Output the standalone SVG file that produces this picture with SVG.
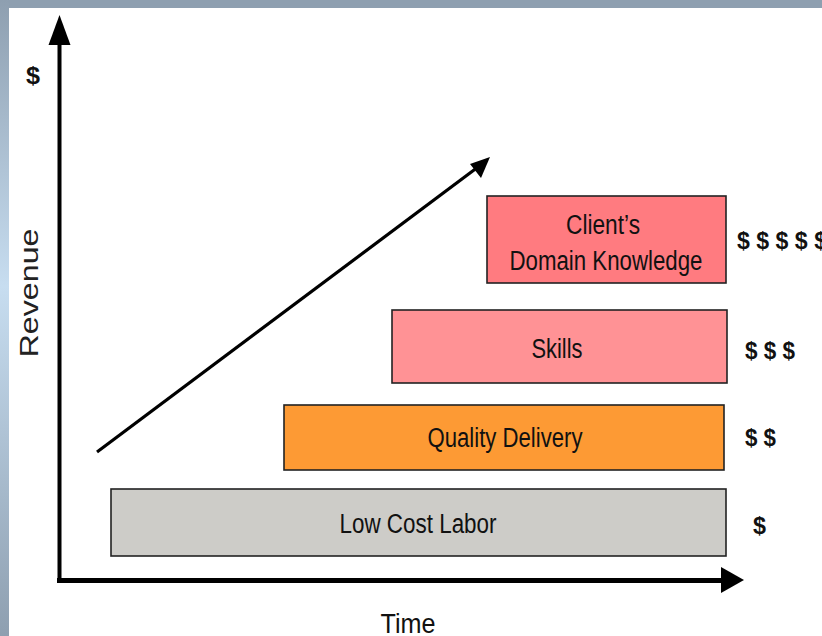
<svg xmlns="http://www.w3.org/2000/svg" width="822" height="636" viewBox="0 0 822 636">
<defs>
<linearGradient id="side" x1="0" y1="0" x2="0" y2="1">
<stop offset="0" stop-color="#8e9fb0"/>
<stop offset="0.45" stop-color="#c7ddf0"/>
<stop offset="1" stop-color="#8e9fb0"/>
</linearGradient>
<style>
.box{stroke:#222;stroke-width:1.6}
.lbl{font-family:"Liberation Sans",Arial,sans-serif;font-size:27px;fill:#111;text-anchor:middle}
.dol{font-family:"Liberation Sans",Arial,sans-serif;font-size:24px;font-weight:bold;fill:#111}
.ax{stroke:#000;fill:none}
</style>
</defs>
<rect x="0" y="0" width="822" height="636" fill="#fff"/>
<rect x="0" y="0" width="822" height="8" fill="#8e9fb0"/>
<rect x="0" y="0" width="9" height="636" fill="url(#side)"/>

<g id="connectors">
<line class="ax" x1="59.5" y1="583" x2="59.5" y2="40" stroke-width="4"/>
<polygon points="59.5,15 48.5,45 70.5,45" fill="#000"/>
<line class="ax" x1="57" y1="580.5" x2="726" y2="580.5" stroke-width="5"/>
<polygon points="744,580 721,567 721,593" fill="#000"/>
<line class="ax" x1="97" y1="452" x2="478" y2="167" stroke-width="3.2"/>
<polygon points="490,157 470,164 481,178" fill="#000"/>
</g>

<g id="axis-labels">
<text x="33" y="84" class="dol" text-anchor="middle" textLength="14" lengthAdjust="spacingAndGlyphs">$</text>
<text transform="translate(38,293) rotate(-90)" text-anchor="middle" font-family="Liberation Sans,Arial,sans-serif" font-size="25" fill="#222" textLength="129" lengthAdjust="spacingAndGlyphs">Revenue</text>
<text x="408" y="633" class="lbl" font-size="30" textLength="55" lengthAdjust="spacingAndGlyphs">Time</text>
</g>

<g id="node-domain">
<rect class="box" x="487" y="196" width="239" height="87" fill="#ff7b80"/>
<text x="603" y="234" class="lbl" textLength="74" lengthAdjust="spacingAndGlyphs">Client’s</text>
<text x="606" y="270" class="lbl" textLength="193" lengthAdjust="spacingAndGlyphs">Domain Knowledge</text>
<text x="737" y="249" class="dol" textLength="90" lengthAdjust="spacingAndGlyphs">$ $ $ $ $</text>
</g>

<g id="node-skills">
<rect class="box" x="392" y="310" width="335" height="73" fill="#ff9295"/>
<text x="557" y="358" class="lbl" textLength="51" lengthAdjust="spacingAndGlyphs">Skills</text>
<text x="745" y="359" class="dol" textLength="50" lengthAdjust="spacingAndGlyphs">$ $ $</text>
</g>

<g id="node-quality">
<rect class="box" x="284" y="405" width="440" height="65" fill="#fd9a34"/>
<text x="505" y="447" class="lbl" textLength="155" lengthAdjust="spacingAndGlyphs">Quality Delivery</text>
<text x="745" y="446" class="dol" textLength="31" lengthAdjust="spacingAndGlyphs">$ $</text>
</g>

<g id="node-labor">
<rect class="box" x="111" y="489" width="615" height="67" fill="#cdccc8"/>
<text x="418" y="533" class="lbl" textLength="157" lengthAdjust="spacingAndGlyphs">Low Cost Labor</text>
<text x="753" y="534" class="dol" textLength="13" lengthAdjust="spacingAndGlyphs">$</text>
</g>
</svg>
